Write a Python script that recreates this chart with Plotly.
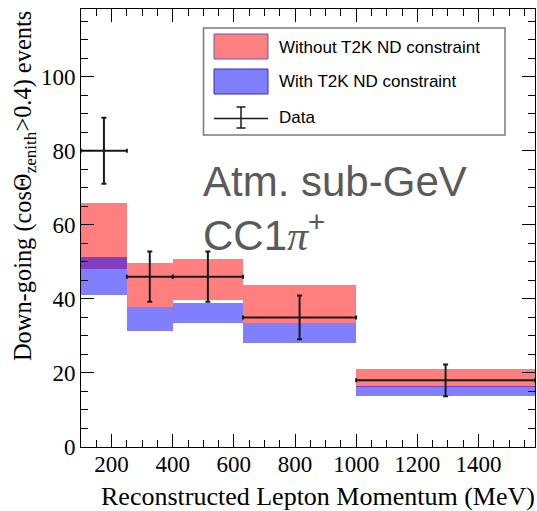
import plotly.graph_objects as go

# ---------------- data ----------------
bin_low = [100, 250, 400, 630, 1000]
bin_high = [250, 400, 630, 1000, 1585]

without_lo = [48.2, 37.7, 39.8, 33.4, 16.2]
without_hi = [65.8, 49.7, 50.9, 43.7, 21.2]

with_lo = [41.0, 31.4, 33.4, 28.2, 13.7]
with_hi = [51.2, 37.7, 38.8, 33.4, 16.6]

data_x = [175, 325, 515, 815, 1292.5]
data_y = [80, 46, 46, 35, 18]
data_err = [8.9, 6.8, 6.8, 5.9, 4.3]

x_ticks = [200, 400, 600, 800, 1000, 1200, 1400]
y_ticks = [0, 20, 40, 60, 80, 100]

# ---------------- geometry helpers (pixel -> paper) ----------------
W, H = 537, 511
X0, X1 = 81, 535
YB, YT = 447, 9


def px(x):
    return (x - X0) / (X1 - X0)


def py(y):
    return (YB - y) / (YB - YT)


centers = [(a + b) / 2 for a, b in zip(bin_low, bin_high)]
widths = [b - a for a, b in zip(bin_low, bin_high)]

fig = go.Figure()

fig.add_trace(go.Bar(
    x=centers, width=widths,
    base=without_lo, y=[h - l for h, l in zip(without_hi, without_lo)],
    marker=dict(color="rgba(255,0,0,0.5)", line=dict(width=0)),
    name="Without T2K ND constraint", showlegend=False,
))
fig.add_trace(go.Bar(
    x=centers, width=widths,
    base=with_lo, y=[h - l for h, l in zip(with_hi, with_lo)],
    marker=dict(color="rgba(0,0,255,0.5)", line=dict(width=0)),
    name="With T2K ND constraint", showlegend=False,
))

fig.add_trace(go.Scatter(
    x=data_x, y=data_y, mode="markers",
    marker=dict(size=1, color="#1a1a1a"),
    error_y=dict(type="data", array=data_err, color="#1a1a1a", thickness=2, width=2.5),
    error_x=dict(type="data",
                 array=[h - c for h, c in zip(bin_high, data_x)],
                 arrayminus=[c - l for c, l in zip(data_x, bin_low)],
                 color="#1a1a1a", thickness=2, width=2),
    name="Data", showlegend=False,
))

SERIF = "Liberation Serif, Times New Roman, serif"

fig.update_layout(
    width=W, height=H,
    margin=dict(l=X0, r=W - X1, t=YT, b=H - YB, pad=0),
    paper_bgcolor="white", plot_bgcolor="white",
    barmode="overlay", bargap=0,
    showlegend=False,
    xaxis=dict(
        range=[100, 1585], tickvals=x_ticks, ticktext=[str(v) for v in x_ticks],
        ticks="inside", ticklen=13, tickwidth=1, tickcolor="black",
        showline=True, linecolor="black", linewidth=1, mirror="ticks",
        showgrid=False, zeroline=False,
        tickfont=dict(family=SERIF, size=23, color="black"),
        ticklabelstandoff=-4,
        minor=dict(ticks="inside", ticklen=7, dtick=50, tick0=0, tickcolor="black", showgrid=False),
    ),
    yaxis=dict(
        range=[0, 118.3], tickvals=y_ticks, ticktext=[str(v) for v in y_ticks],
        ticks="inside", ticklen=13, tickwidth=1, tickcolor="black",
        showline=True, linecolor="black", linewidth=1, mirror="ticks",
        showgrid=False, zeroline=False,
        tickfont=dict(family=SERIF, size=23, color="black"),
        minor=dict(ticks="inside", ticklen=7, dtick=5, tick0=0, tickcolor="black", showgrid=False),
    ),
)

shapes = []
# legend box
shapes.append(dict(type="rect", xref="paper", yref="paper",
                   x0=px(203.5), x1=px(505), y0=py(135), y1=py(28),
                   line=dict(color="#7a7a7a", width=1.5), fillcolor="white", layer="above"))
shapes.append(dict(type="rect", xref="paper", yref="paper",
                   x0=px(214), x1=px(268), y0=py(59), y1=py(34),
                   line=dict(color="#6a5aa8", width=1), fillcolor="#ff8080", layer="above"))
shapes.append(dict(type="rect", xref="paper", yref="paper",
                   x0=px(214), x1=px(268), y0=py(94), y1=py(69),
                   line=dict(color="#3030b0", width=1), fillcolor="#8080ff", layer="above"))
# data symbol
shapes.append(dict(type="line", xref="paper", yref="paper",
                   x0=px(214), x1=px(268), y0=py(118.5), y1=py(118.5),
                   line=dict(color="#1a1a1a", width=1.5), layer="above"))
shapes.append(dict(type="line", xref="paper", yref="paper",
                   x0=px(241), x1=px(241), y0=py(107), y1=py(128),
                   line=dict(color="#1a1a1a", width=1.5), layer="above"))
for yy in (107, 128):
    shapes.append(dict(type="line", xref="paper", yref="paper",
                       x0=px(236.5), x1=px(245.5), y0=py(yy), y1=py(yy),
                       line=dict(color="#1a1a1a", width=1.5), layer="above"))
fig.update_layout(shapes=shapes)

leg_font = dict(family="Liberation Sans", size=17, color="black")
ann = []
for text, yy in [("Without T2K ND constraint", 47), ("With T2K ND constraint", 82), ("Data", 118)]:
    ann.append(dict(text=text, xref="paper", yref="paper", x=px(277), y=py(yy),
                    xanchor="left", yanchor="middle", showarrow=False, font=leg_font))

big_font = dict(family="Liberation Sans", size=42, color="#5a5a5a")
ann.append(dict(text="Atm. sub-GeV", xref="paper", yref="paper", x=px(201), y=py(181),
                xanchor="left", yanchor="middle", showarrow=False, font=big_font))
ann.append(dict(text="CC1<span style=\"font-family:Liberation Serif;font-style:italic\">π</span><sup>+</sup>",
                xref="paper", yref="paper", x=px(201), y=py(232),
                xanchor="left", yanchor="middle", showarrow=False, font=big_font))

ann.append(dict(text="Reconstructed Lepton Momentum (MeV)", xref="paper", yref="paper",
                x=px(537), y=py(496), xanchor="right", yanchor="middle",
                showarrow=False, font=dict(family=SERIF, size=26, color="black")))
ann.append(dict(text="Down-going (cosΘ<sub>zenith</sub>&gt;0.4) events", xref="paper", yref="paper",
                x=px(24), y=py(9), xanchor="center", yanchor="top", textangle=-90,
                showarrow=False, font=dict(family=SERIF, size=24.4, color="black")))
fig.update_layout(annotations=ann)

fig.write_html("out.html")
